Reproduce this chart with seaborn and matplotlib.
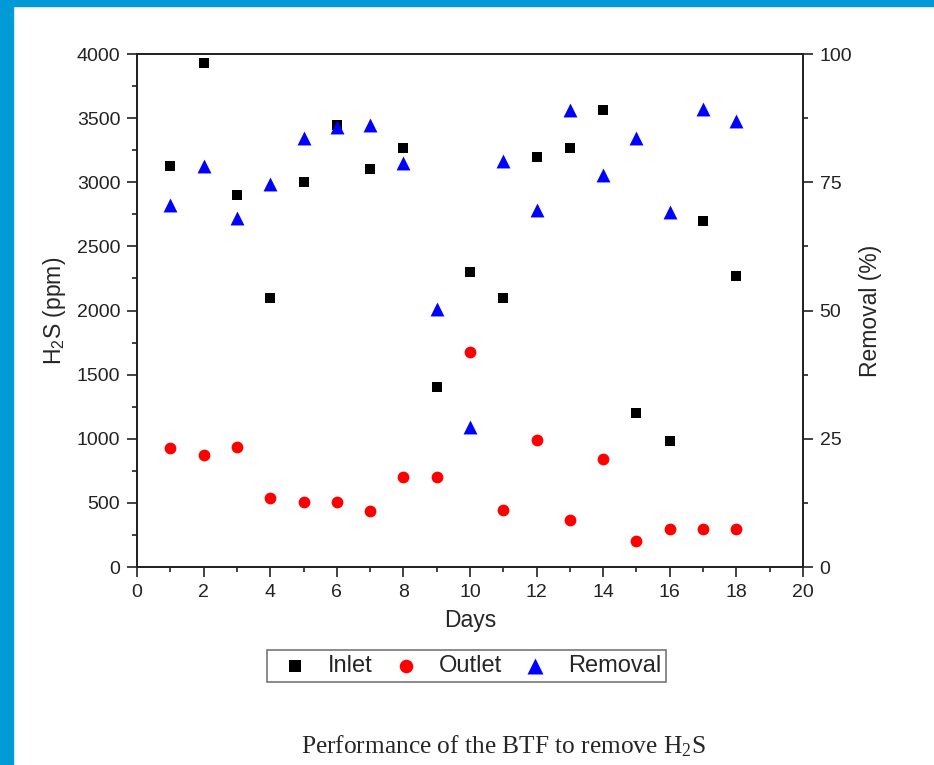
import numpy as np
import pandas as pd
import seaborn as sns
import matplotlib.pyplot as plt
from matplotlib.ticker import MultipleLocator, AutoMinorLocator
from matplotlib.patches import Rectangle

# 数据：按图读取
days = list(range(1, 19))
inlet = [3130, 3930, 2900, 2100, 3000, 3450, 3100, 3270, 1400,
         2300, 2100, 3200, 3270, 3565, 1200, 980, 2700, 2270]
outlet = [925, 870, 935, 540, 505, 505, 440, 700, 700,
          1680, 445, 990, 370, 840, 205, 300, 300, 300]
removal = [70.6, 78.1, 68.0, 74.7, 83.6, 85.7, 86.2, 78.8, 50.2,
           27.3, 79.2, 69.5, 89.1, 76.5, 83.6, 69.3, 89.2, 87.0]

df = pd.DataFrame({'Days': days, 'Inlet': inlet, 'Outlet': outlet, 'Removal': removal})

sns.set_style('ticks')
plt.rcParams['font.family'] = ['Liberation Sans', 'DejaVu Sans']
plt.rcParams['mathtext.default'] = 'regular'

fig = plt.figure(figsize=(9.34, 7.65), dpi=100)
ax = fig.add_axes([0.1467, 0.2588, 0.713, 0.6706])
ax2 = ax.twinx()

sns.scatterplot(data=df, x='Days', y='Inlet', ax=ax, marker='s', color='black',
                s=58, linewidth=0, label='Inlet', legend=False)
sns.scatterplot(data=df, x='Days', y='Outlet', ax=ax, marker='o', color='red',
                s=72, linewidth=0, label='Outlet', legend=False)
sns.scatterplot(data=df, x='Days', y='Removal', ax=ax2, marker='^', color='blue',
                s=100, linewidth=0, label='Removal', legend=False)

ax.set_xlim(0, 20)
ax.set_ylim(0, 4000)
ax2.set_ylim(0, 100)
ax.xaxis.set_major_locator(MultipleLocator(2))
ax.yaxis.set_major_locator(MultipleLocator(500))
ax2.yaxis.set_major_locator(MultipleLocator(25))
for a in (ax.xaxis, ax.yaxis, ax2.yaxis):
    a.set_minor_locator(AutoMinorLocator(2))

for a in (ax, ax2):
    for sp in a.spines.values():
        sp.set_visible(True)
        sp.set_linewidth(1.3)
        sp.set_color('#222222')
    a.tick_params(which='major', direction='out', length=7, width=1.2,
                  labelsize=14, pad=5, colors='#222222')
    a.tick_params(which='minor', direction='out', length=3.5, width=1.2, colors='#222222')

ax.set_xlabel('Days', fontsize=16.5, labelpad=6)
ax.set_ylabel('H$_2$S (ppm)', fontsize=16.5, labelpad=6)
ax2.set_ylabel('Removal (%)', fontsize=16.5, labelpad=5)

for a in (ax, ax2):
    if a.get_legend() is not None:
        a.get_legend().remove()

h1, l1 = ax.get_legend_handles_labels()
h2, l2 = ax2.get_legend_handles_labels()
leg = fig.legend(h1 + h2, l1 + l2, loc='center', bbox_to_anchor=(0.4995, 0.1294),
                 ncol=3, fontsize=17, frameon=True, fancybox=False, edgecolor='#555555',
                 handlelength=2.0, handletextpad=0.4, columnspacing=0.4, borderpad=0.2,
                 markerscale=1.15)
leg.get_frame().set_linewidth(1.2)

fig.text(0.5385, 0.025, 'Performance of the BTF to remove H$_2$S', ha='center', va='center',
         fontsize=18.3, family=['Liberation Serif', 'DejaVu Serif'])

# 蓝色边框
fig.patches.append(Rectangle((0, 0), 13 / 934, 1, transform=fig.transFigure,
                             color='#009ad6', zorder=0))
fig.patches.append(Rectangle((0, 1 - 6 / 765), 1, 6 / 765, transform=fig.transFigure,
                             color='#009ad6', zorder=0))

plt.savefig('out.png', dpi=100)
